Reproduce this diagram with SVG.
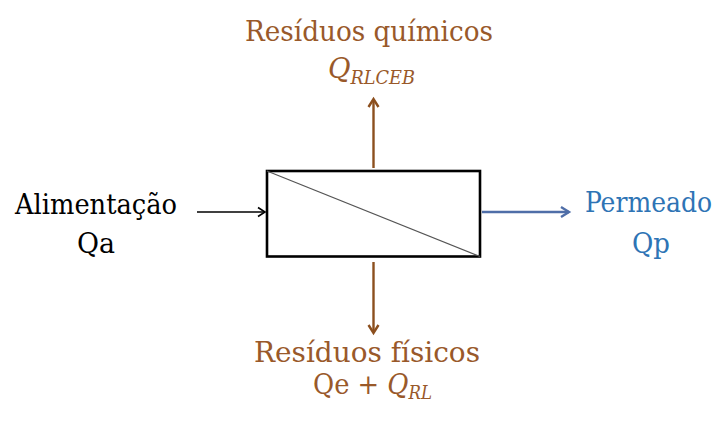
<svg xmlns="http://www.w3.org/2000/svg" width="718" height="422" viewBox="0 0 718 422">
  <style>
    text { font-family: "DejaVu Serif Condensed", "DejaVu Serif", serif; font-size: 28px; text-anchor: middle; }
    .math { font-style: italic; }
    .sub { font-size: 18px; }
    .brown { fill: #99592A; }
    .blue { fill: #2E74B5; }
    .black { fill: #000000; }
  </style>
  <defs>
    <marker id="headBlack" markerWidth="12" markerHeight="12" refX="9" refY="6" orient="auto" markerUnits="userSpaceOnUse">
      <path d="M2,1.5 L9,6 L2,10.5" fill="none" stroke="#000" stroke-width="1.6"/>
    </marker>
    <marker id="headBrown" markerWidth="14" markerHeight="14" refX="11" refY="7" orient="auto" markerUnits="userSpaceOnUse">
      <path d="M3,2 L11,7 L3,12" fill="none" stroke="#8C4F1E" stroke-width="2.4"/>
    </marker>
    <marker id="headBlue" markerWidth="14" markerHeight="14" refX="11" refY="7" orient="auto" markerUnits="userSpaceOnUse">
      <path d="M3,2 L11,7 L3,12" fill="none" stroke="#4F6EA8" stroke-width="2.4"/>
    </marker>
  </defs>

  <rect width="718" height="422" fill="#ffffff"/>

  <g id="membrane">
    <rect x="267" y="171" width="213" height="85.5" fill="#ffffff" stroke="#000" stroke-width="2.6"/>
    <line x1="267" y1="171" x2="480" y2="256.5" stroke="#555" stroke-width="1.3"/>
  </g>

  <g id="connectors">
    <line x1="197" y1="212" x2="265" y2="212" stroke="#000" stroke-width="1.6" marker-end="url(#headBlack)"/>
    <line x1="482" y1="212" x2="569" y2="212" stroke="#4F6EA8" stroke-width="2.4" marker-end="url(#headBlue)"/>
    <line x1="373.5" y1="168" x2="373.5" y2="99" stroke="#8C4F1E" stroke-width="2.4" marker-end="url(#headBrown)"/>
    <line x1="373.5" y1="262" x2="373.5" y2="333" stroke="#8C4F1E" stroke-width="2.4" marker-end="url(#headBrown)"/>
  </g>

  <g id="feed">
    <text class="black" x="96" y="214" textLength="162" lengthAdjust="spacingAndGlyphs">Alimentação</text>
    <text class="black" x="96" y="253" textLength="38" lengthAdjust="spacingAndGlyphs">Qa</text>
  </g>

  <g id="permeate">
    <text class="blue" x="648.5" y="212" textLength="127" lengthAdjust="spacingAndGlyphs">Permeado</text>
    <text class="blue" x="651" y="253" textLength="38" lengthAdjust="spacingAndGlyphs">Qp</text>
  </g>

  <g id="chemical-waste">
    <text class="brown" x="369" y="41" textLength="248" lengthAdjust="spacingAndGlyphs">Resíduos químicos</text>
    <text class="brown" x="371.5" y="78" textLength="87" lengthAdjust="spacingAndGlyphs"><tspan class="math">Q</tspan><tspan class="math sub" dy="6">RLCEB</tspan></text>
  </g>

  <g id="physical-waste">
    <text class="brown" x="367" y="362" textLength="226" lengthAdjust="spacingAndGlyphs">Resíduos físicos</text>
    <text class="brown" x="372.5" y="394" textLength="119" lengthAdjust="spacingAndGlyphs">Qe + <tspan class="math">Q</tspan><tspan class="math sub" dy="5">RL</tspan></text>
  </g>
</svg>
